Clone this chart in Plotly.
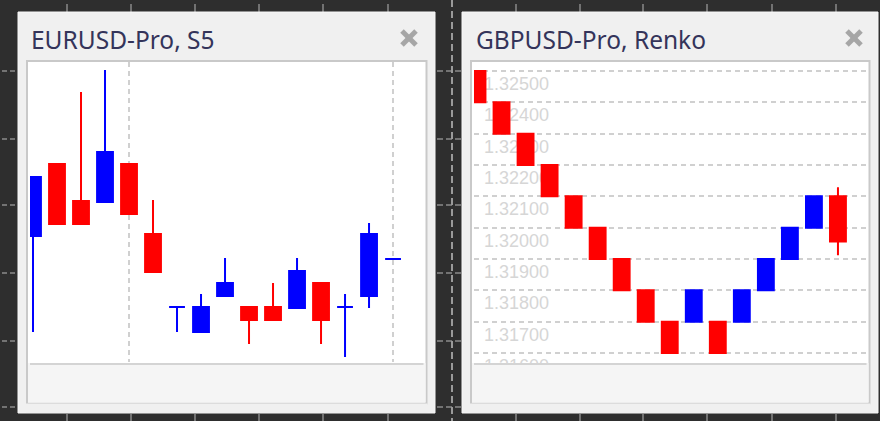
import plotly.graph_objects as go

W, H = 880, 421

# ---------------- data: EURUSD-Pro, S5 candles ----------------
eur_x = list(range(16))
eur_open  = [1.17826, 1.17898, 1.17861, 1.17860, 1.17898, 1.17828, 1.17755, 1.17730,
             1.17766, 1.17755, 1.17755, 1.17754, 1.17779, 1.17755, 1.17766, 1.17803]
eur_high  = [1.17885, 1.17898, 1.17970, 1.17992, 1.17898, 1.17862, 1.17755, 1.17768,
             1.17804, 1.17755, 1.17779, 1.17804, 1.17779, 1.17768, 1.17839, 1.17803]
eur_low   = [1.17730, 1.17838, 1.17838, 1.17860, 1.17848, 1.17790, 1.17730, 1.17730,
             1.17766, 1.17718, 1.17742, 1.17754, 1.17718, 1.17705, 1.17754, 1.17803]
eur_close = [1.17885, 1.17838, 1.17838, 1.17910, 1.17848, 1.17790, 1.17755, 1.17755,
             1.17779, 1.17742, 1.17742, 1.17791, 1.17742, 1.17755, 1.17828, 1.17803]
eur_bull  = [True, False, False, True, False, False, True, True,
             True, False, False, True, False, True, True, True]
eur_separators = [4, 15]
eur_range = [1.17700, 1.18000]

# ---------------- data: GBPUSD-Pro, Renko bricks ----------------
gbp_x = list(range(16))
gbp_open  = [1.325, 1.324, 1.323, 1.322, 1.321, 1.320, 1.319, 1.318,
             1.317, 1.317, 1.317, 1.317, 1.318, 1.319, 1.320, 1.321]
gbp_close = [1.324, 1.323, 1.322, 1.321, 1.320, 1.319, 1.318, 1.317,
             1.316, 1.318, 1.316, 1.318, 1.319, 1.320, 1.321, 1.31956]
gbp_high  = [1.325, 1.324, 1.323, 1.322, 1.321, 1.320, 1.319, 1.318,
             1.317, 1.318, 1.317, 1.318, 1.319, 1.320, 1.321, 1.32129]
gbp_low   = [1.324, 1.323, 1.322, 1.321, 1.320, 1.319, 1.318, 1.317,
             1.316, 1.317, 1.316, 1.317, 1.318, 1.319, 1.320, 1.31912]
gbp_levels = [1.316, 1.317, 1.318, 1.319, 1.320, 1.321, 1.322, 1.323, 1.324, 1.325]
gbp_labels = ["%.5f" % v for v in gbp_levels]
gbp_range = [1.315138, 1.325287]

UP, DOWN = "#0000ff", "#ff0000"
BG = "#2e2e2e"


def px(x):
    return x / W


def py(y):
    return 1 - y / H


def sel(vals, mask):
    return [v for v, m in zip(vals, mask) if m]


def candles(x, o, h, l, c, up, down, xa, ya):
    return go.Candlestick(
        x=x, open=o, high=h, low=l, close=c, xaxis=xa, yaxis=ya,
        increasing=dict(line=dict(color=up, width=2), fillcolor=up),
        decreasing=dict(line=dict(color=down, width=2), fillcolor=down),
        whiskerwidth=0, showlegend=False, hoverinfo="skip")


fig = go.Figure()
bear = [not b for b in eur_bull]
fig.add_trace(candles(sel(eur_x, eur_bull), sel(eur_open, eur_bull), sel(eur_high, eur_bull),
                      sel(eur_low, eur_bull), sel(eur_close, eur_bull), UP, UP, "x", "y"))
fig.add_trace(candles(sel(eur_x, bear), sel(eur_open, bear), sel(eur_high, bear),
                      sel(eur_low, bear), sel(eur_close, bear), DOWN, DOWN, "x", "y"))
fig.add_trace(candles(gbp_x, gbp_open, gbp_high, gbp_low, gbp_close, UP, DOWN, "x2", "y2"))

shapes = []


def rect(x0, y0, x1, y1, fill, line=None, lw=0, layer="below"):
    shapes.append(dict(type="rect", xref="paper", yref="paper",
                       x0=px(x0), x1=px(x1), y0=py(y1), y1=py(y0),
                       fillcolor=fill, line=dict(color=line or fill, width=lw), layer=layer))


def seg(x0, y0, x1, y1, color, lw=1, dash="solid", layer="below"):
    shapes.append(dict(type="line", xref="paper", yref="paper",
                       x0=px(x0), x1=px(x1), y0=py(y0), y1=py(y1),
                       line=dict(color=color, width=lw, dash=dash), layer=layer))


TICK = "#8a8a8a"
# dark-background rulers
for x in [67, 131, 195, 259, 323, 388, 516, 580, 643, 707, 772, 836]:
    seg(x, 4, x, 12, TICK, 1.5)
    seg(x, 414, x, 421, TICK, 1.5)
for y in [71, 139, 205, 273, 341, 407]:
    seg(2, y, 17, y, TICK, 1.5, "5px,3px")
    seg(437, y, 461, y, TICK, 1.5, "6px,3px")
seg(452, 0, 452, 421, "#9a9a9a", 2, "7px,4px")

# panels
for (ox0, ox1, ix0, ix1) in [(18, 435, 27, 426.5), (462, 878, 471, 869.5)]:
    rect(ox0, 12, ox1, 413, "#f0f0f0", "#f7f7f7", 1)
    rect(ix0, 61, ix1, 403.5, "#ffffff", "#c9c9c9", 2)
    rect(ix0 + 1, 363, ix1 - 1, 402.5, "#f5f5f5", layer="above")
    seg(ix0 + 3, 364, ix1 - 3, 364, "#d4d4d4", 2, layer="above")
    rect(ix0 - 1, 403.5, ix1 + 1, 413, "#f0f0f0", layer="above")

# close icons
for cx in [409, 854]:
    seg(cx - 7, 31, cx + 7, 45, "#a6a6a6", 5)
    seg(cx - 7, 45, cx + 7, 31, "#a6a6a6", 5)

annotations = []
for tx, title in [(29, "EURUSD-Pro, S5"), (474, "GBPUSD-Pro, Renko")]:
    annotations.append(dict(text=title, x=px(tx), y=py(39.5), xref="paper", yref="paper",
                            xanchor="left", yanchor="middle", showarrow=False,
                            font=dict(family="Noto Sans", size=24.5, color="#34345a")))

dom_y = [py(362), py(62)]
dash = "5px,4px"
GRID = "#d0d0d0"
fig.update_layout(
    width=W, height=H, margin=dict(l=0, r=0, t=0, b=0),
    paper_bgcolor=BG, plot_bgcolor="rgba(0,0,0,0)",
    boxgap=0.34, boxgroupgap=0, showlegend=False,
    shapes=shapes, annotations=annotations,
    xaxis=dict(domain=[px(30), px(424)], range=[-0.125, 16.29], anchor="y",
               tickmode="array", tickvals=eur_separators, showgrid=True,
               gridcolor=GRID, gridwidth=2, griddash=dash,
               showticklabels=False, ticks="", zeroline=False, showline=False,
               rangeslider=dict(visible=False), fixedrange=True),
    yaxis=dict(domain=dom_y, range=eur_range, anchor="x", showgrid=False,
               showticklabels=False, ticks="", zeroline=False, showline=False,
               fixedrange=True),
    xaxis2=dict(domain=[px(474), px(868)], range=[-0.146, 16.25], anchor="y2",
                showgrid=False, showticklabels=False, ticks="", zeroline=False,
                showline=False, rangeslider=dict(visible=False), fixedrange=True),
    yaxis2=dict(domain=[py(380), py(62)], range=gbp_range, anchor="x2",
                tickmode="array", tickvals=gbp_levels, ticktext=gbp_labels,
                showgrid=True, gridcolor=GRID, gridwidth=2, griddash=dash,
                ticklabelposition="inside bottom", ticklabelstandoff=7,
                layer="below traces",
                tickfont=dict(family="Liberation Sans", size=18, color="#d6d6d6"),
                ticks="", zeroline=False, showline=False, fixedrange=True),
)

fig.write_html("out.html", config={"displayModeBar": False},
               post_script="document.body.style.margin='0';document.body.style.overflow='hidden';")
